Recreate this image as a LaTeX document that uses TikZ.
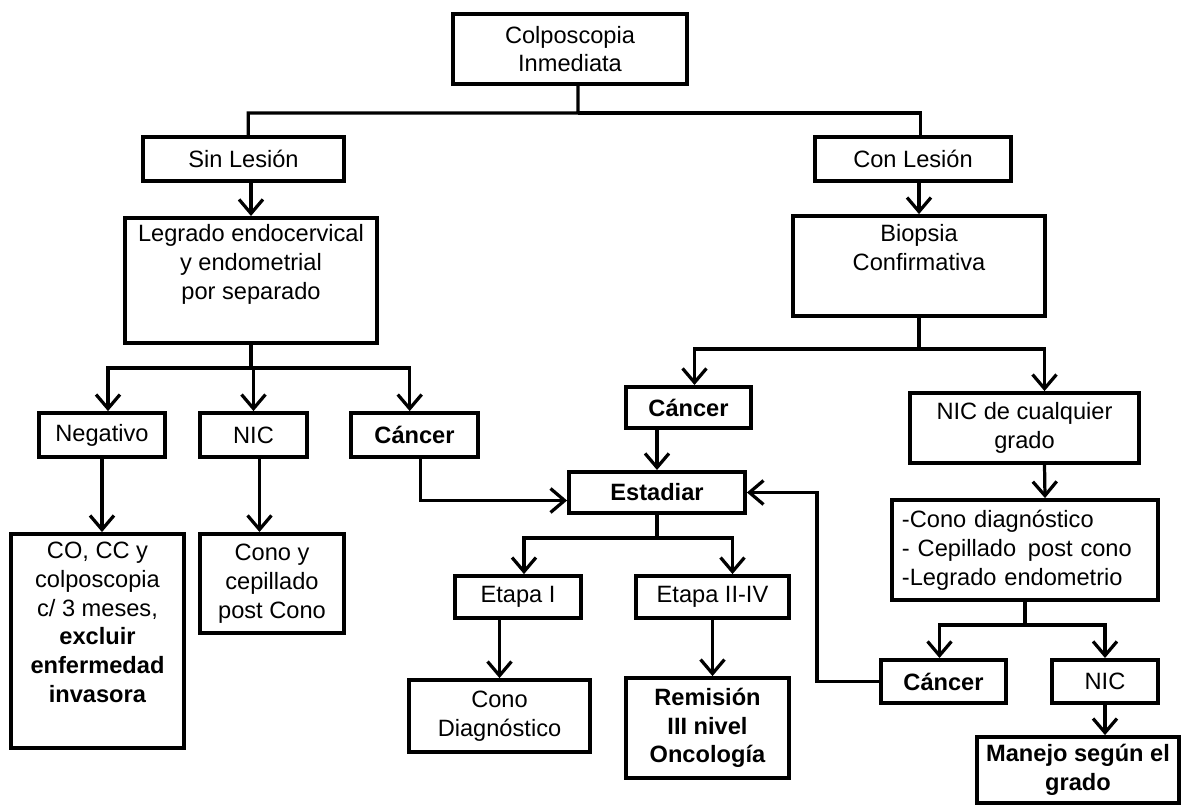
\documentclass[tikz,border=0pt]{standalone}
\usepackage{fontspec}
\setmainfont{Liberation Sans}
\usetikzlibrary{arrows.meta}

\begin{document}
\begin{tikzpicture}[x=0.025cm, y=-0.025cm]
        \tikzstyle{box} = [draw, line width=2.7pt, inner sep=0pt, align=center, font=\fontsize{16.8}{20.5}\selectfont];
        \tikzstyle{wire} = [line width=2.3pt];
        \tikzstyle{arr} = [wire, -{Straight Barb[length=10pt, width=17pt]}];
        \useasboundingbox (0,0) rectangle (1182,807);

        \node [box, minimum width=5.85cm, minimum height=1.75cm] (colpo) at (570,49) {Colposcopia\\Inmediata};
        \node [box, minimum width=5.03cm, minimum height=1.1cm] (sin) at (243.5,159) {Sin Lesión};
        \node [box, minimum width=4.9cm, minimum height=1.1cm] (con) at (913,159) {Con Lesión};
        \node [box, minimum width=6.28cm, minimum height=3.13cm] (legrado) at (251,280.5) {Legrado endocervical\\y endometrial\\por separado\\\strut};
        \node [box, minimum width=6.3cm, minimum height=2.5cm] (biopsia) at (919,266) {Biopsia\\Confirmativa\\\strut};

        \node [box, minimum width=3.15cm, minimum height=1.1cm] (neg) at (102,435) {Negativo};
        \node [box, minimum width=2.68cm, minimum height=1.1cm] (nic1) at (253.5,435) {NIC};
        \node [box, minimum width=3.18cm, minimum height=1.1cm] (can1) at (414.5,435) {\textbf{Cáncer}};
        \node [box, minimum width=4.33cm, minimum height=5.35cm] (co) at (97.5,641) {CO, CC y\\colposcopia\\c/ 3 meses,\\\textbf{excluir}\\\textbf{enfermedad}\\\textbf{invasora}\\\strut};
        \node [box, minimum width=3.6cm, minimum height=2.48cm] (cono) at (272,583.5) {Cono y\\cepillado\\post Cono};

        \node [box, minimum width=3.13cm, minimum height=1.03cm] (can2) at (688.5,407.5) {\textbf{Cáncer}};
        \node [box, minimum width=4.4cm, minimum height=1.03cm] (est) at (657,492.5) {\textbf{Estadiar}};
        \node [box, minimum width=3.15cm, minimum height=1.05cm] (et1) at (518,597) {Etapa I};
        \node [box, minimum width=3.83cm, minimum height=1.05cm] (et2) at (712.5,597) {Etapa II-IV};
        \node [box, minimum width=4.53cm, minimum height=1.8cm] (conod) at (499.5,716) {Cono\\Diagnóstico};
        \node [box, minimum width=4.08cm, minimum height=2.5cm] (rem) at (707.5,728) {\textbf{Remisión}\\\textbf{III nivel}\\\textbf{Oncología}};

        \node [box, minimum width=5.73cm, minimum height=1.75cm] (nicg) at (1024.5,428) {NIC de cualquier\\grado};
        \node [box, minimum width=6.65cm, minimum height=2.5cm, text width=6.15cm, align=left] (list) at (1025,550) {-Cono diagnóstico\\- Cepillado\enspace post cono\\-Legrado endometrio};
        \node [box, minimum width=3.13cm, minimum height=1.08cm] (can3) at (943.5,681.5) {\textbf{Cáncer}};
        \node [box, minimum width=2.65cm, minimum height=1.08cm] (nic3) at (1105,681.5) {NIC};
        \node [box, minimum width=5.05cm, minimum height=1.65cm] (manejo) at (1078,770) {\textbf{Manejo según el}\\\textbf{grado}};

        \coordinate (tsplit) at (578,113);
        \coordinate (lsplit) at (251,368);
        \coordinate (bsplit) at (919,349);
        \coordinate (esplit) at (657,538);
        \coordinate (csplit) at (1025,625);
        \coordinate (ret) at (817,681.5);

        \draw [wire] ([xshift=0.2cm]colpo.south) -- (tsplit) -| ([xshift=0.12cm]sin.north);
        \draw [wire] (tsplit) -| ([xshift=0.18cm]con.north);
        \draw [arr] (legrado.north |- sin.south) -- (legrado.north);
        \draw [arr] (biopsia.north |- con.south) -- (biopsia.north);

        \draw [wire] (legrado.south) -- (lsplit);
        \draw [arr] (lsplit) -| ([xshift=0.15cm]neg.north);
        \draw [arr] (lsplit) -| (nic1.north);
        \draw [arr] (lsplit) -| ([xshift=-0.12cm]can1.north);
        \draw [arr] (neg.south) -- (neg.south |- co.north);
        \draw [arr] ([xshift=0.15cm]nic1.south) -- ([xshift=0.15cm]nic1.south |- cono.north);
        \draw [arr] ([xshift=0.15cm]can1.south) |- ([yshift=-0.2cm]est.west);

        \draw [wire] (biopsia.south) -- (bsplit);
        \draw [arr] (bsplit) -| ([xshift=0.15cm]can2.north);
        \draw [arr] (bsplit) -| ([xshift=0.5cm]nicg.north);
        \draw [arr] (can2.south -| est.north) -- (est.north);

        \draw [wire] (est.south) -- (esplit);
        \draw [arr] (esplit) -| ([xshift=0.15cm]et1.north);
        \draw [arr] (esplit) -| ([xshift=0.5cm]et2.north);
        \draw [arr] (et1.south -| conod.north) -- (conod.north);
        \draw [arr] (et2.south) -- (et2.south |- rem.north);

        \draw [arr] ([xshift=0.5cm]nicg.south) -- ([xshift=0.5cm]list.north);
        \draw [wire] (list.south) -- (csplit);
        \draw [arr] (csplit) -| ([xshift=-0.1cm]can3.north);
        \draw [arr] (csplit) -| (nic3.north);
        \draw [arr] (can3.west) -- (ret) |- (est.east);
        \draw [arr] (nic3.south) -- (nic3.south |- manejo.north);
\end{tikzpicture}
\end{document}
